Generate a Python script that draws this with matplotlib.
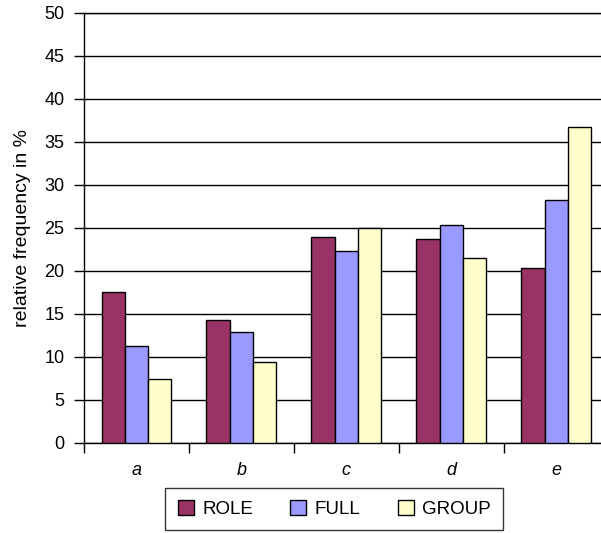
import numpy as np
import matplotlib.pyplot as plt

plt.rcParams['font.family'] = ['Liberation Sans', 'DejaVu Sans']

categories = ['a', 'b', 'c', 'd', 'e']
role = [17.6, 14.3, 24.0, 23.7, 20.4]
full = [11.3, 12.9, 22.3, 25.35, 28.2]
group = [7.4, 9.45, 25.0, 21.5, 36.7]

series = [('ROLE', role, '#993366'),
          ('FULL', full, '#9999FF'),
          ('GROUP', group, '#FFFFCC')]

fig = plt.figure(figsize=(6.01, 5.33), dpi=100)
# the last category runs slightly past the right edge of the canvas
ax = fig.add_axes([0.1398, 0.1689, 0.8729, 0.8068])

x = np.arange(len(categories))
w = 2 / 9
for i, (name, vals, col) in enumerate(series):
    ax.bar(x + (i - 1) * w, vals, width=w, color=col, edgecolor='black',
           linewidth=1.0, label=name, zorder=3)

ax.set_xlim(-0.5, len(categories) - 0.5)
ax.set_ylim(0, 50)
ax.set_yticks(np.arange(0, 51, 5))
ax.yaxis.grid(True, color='black', linewidth=1.0, zorder=0)
ax.set_axisbelow(True)

# category boundaries get the tick marks, names go in the middle
ax.set_xticks(np.arange(-0.5, len(categories), 1.0))
ax.set_xticklabels([])
ax.set_xticks(x, minor=True)
ax.set_xticklabels(categories, minor=True, style='italic', fontsize=13)
ax.tick_params(axis='x', which='minor', length=0, pad=14)
ax.tick_params(axis='x', which='major', length=7, width=1.0, direction='out')
ax.tick_params(axis='y', length=7, width=1.0, labelsize=13, pad=7)

for s in ['right']:
    ax.spines[s].set_visible(False)
for s in ['left', 'bottom', 'top']:
    ax.spines[s].set_linewidth(1.0)
    ax.spines[s].set_color('black')

ax.set_ylabel('relative frequency in %', fontsize=14, labelpad=10)

leg = fig.legend(loc='center', bbox_to_anchor=(0.5564, 0.0453), ncol=3,
                 fontsize=13.5, frameon=True, fancybox=False,
                 edgecolor='black', handlelength=0.85, handleheight=0.85,
                 columnspacing=2.0, handletextpad=0.45, borderpad=0.65)
leg.get_frame().set_linewidth(1.0)

fig.savefig('out.png', dpi=100)
